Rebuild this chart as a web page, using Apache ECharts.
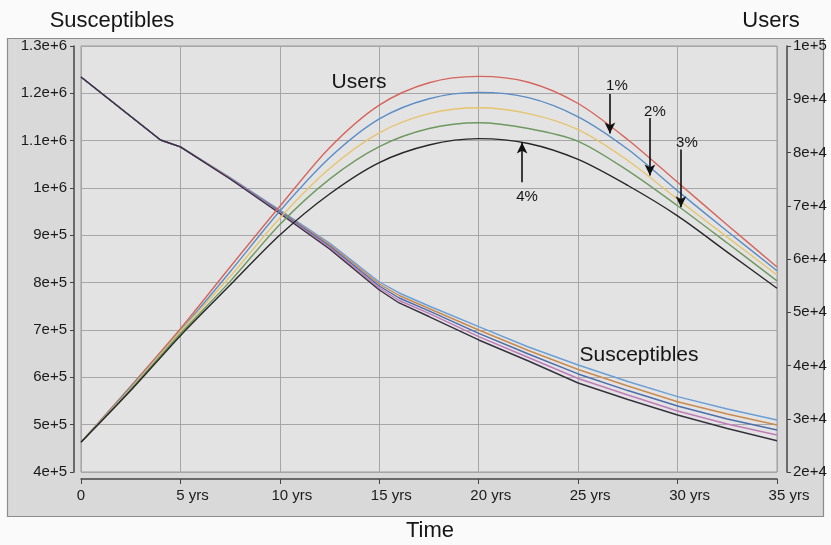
<!DOCTYPE html>
<html><head><meta charset="utf-8">
<script src="https://cdn.jsdelivr.net/npm/echarts@6/dist/echarts.min.js"></script>
<style>html,body{margin:0;padding:0;background:#fafafa;}#c{width:831px;height:545px;}</style>
</head><body><div id="c"></div>
<script>
// ---- tick labels ----
const xTickLabels = ['0', '5 yrs', '10 yrs', '15 yrs', '20 yrs', '25 yrs', '30 yrs', '35 yrs'];
const leftTickLabels = ['4e+5', '5e+5', '6e+5', '7e+5', '8e+5', '9e+5', '1e+6', '1.1e+6', '1.2e+6', '1.3e+6'];
const rightTickLabels = ['2e+4', '3e+4', '4e+4', '5e+4', '6e+4', '7e+4', '8e+4', '9e+4', '1e+5'];

// ---- Users (right axis) ----
const usersTime = [0, 2.5, 5, 7.5, 10, 12.5, 15, 17.5, 20, 22.5, 25, 27.5, 30, 32.5, 35];
const usersRed    = [25600, 36100, 46900, 58500, 69900, 80900, 88900, 93100, 94300, 93200, 89200, 82400, 74400, 66400, 58500];
const usersBlue   = [25600, 35900, 46500, 57600, 69000, 79000, 86300, 90100, 91300, 90300, 86700, 80600, 72800, 65200, 57800];
const usersYellow = [25600, 35700, 46400, 56700, 67700, 77000, 83700, 87300, 88400, 87300, 84300, 78500, 71200, 64100, 57000];
const usersGreen  = [25600, 35500, 46000, 55800, 66500, 75000, 81100, 84500, 85600, 84500, 82100, 76600, 70000, 63000, 55900];
const usersBlack  = [25600, 35300, 45600, 55100, 64500, 72200, 78100, 81400, 82600, 81700, 78700, 73800, 68100, 61300, 54500];

// ---- Susceptibles (left axis) ----
const suscTime = [0, 4, 5, 7.5, 10, 12.5, 15, 16, 17.5, 20, 22.5, 25, 27.5, 30, 32.5, 35];
const suscLightBlue = [1234600, 1101400, 1086700, 1022200, 953500, 883800, 801400, 778200, 750700, 707000, 664100, 626100, 591200, 559100, 533100, 509900];
const suscOrange    = [1234600, 1101400, 1086700, 1021200, 951400, 880700, 797200, 772900, 745400, 700000, 656700, 616600, 581700, 548500, 522500, 499300];
const suscBlue      = [1234600, 1101400, 1086700, 1020500, 950000, 877500, 793000, 767600, 740200, 693000, 649300, 607100, 572100, 539400, 512000, 488700];
const suscPink      = [1234600, 1101400, 1086700, 1019900, 948300, 874300, 788800, 762300, 734900, 685900, 641900, 597500, 562700, 528900, 501400, 478200];
const suscBlack     = [1234600, 1101400, 1086700, 1019000, 946200, 871100, 784500, 757100, 728500, 678900, 634500, 588000, 553200, 520400, 491900, 466100];

// ---- annotations (data coordinates) ----
const arrowTexts = ['1%', '2%', '3%', '4%'];
const arrowX = [26.6, 28.61, 30.17, 22.18];
const arrowFrom = [91000, 86500, 80560, 74390];
const arrowTo = [83550, 75700, 69720, 81870];
const arrowLabelX = [26.95, 28.86, 30.47, 22.43];
const arrowLabelY = [92520, 87660, 81870, 71590];

const pairs = (ts, vs) => ts.map((t, i) => [t, vs[i]]);
const FONT = '"Liberation Sans", Arial, sans-serif';

const chart = echarts.init(document.getElementById('c'), null, {renderer: 'canvas'});

function lineSeries(name, ts, vs, color, axis, smooth, extra) {
  return Object.assign({
    name, type: 'line', xAxisIndex: 0, yAxisIndex: axis,
    data: pairs(ts, vs), showSymbol: false, symbol: 'none', smooth: smooth,
    lineStyle: {color, width: 1.4}, itemStyle: {color}, animation: false, silent: true
  }, extra || {});
}

const SM = 0.3;
const series = [
  lineSeries('S1', suscTime, suscLightBlue, '#6a9ed6', 0, false),
  lineSeries('S2', suscTime, suscOrange, '#c98a4e', 0, false),
  lineSeries('S3', suscTime, suscBlue, '#4d6cab', 0, false),
  lineSeries('S4', suscTime, suscPink, '#c07ab8', 0, false),
  lineSeries('S5', suscTime, suscBlack, '#34323e', 0, false, {
    markPoint: {
      silent: true, symbol: 'rect', symbolSize: 1, itemStyle: {color: 'rgba(0,0,0,0)'},
      label: {show: true, position: 'inside', color: '#151515', fontSize: 21, fontFamily: FONT, formatter: p => p.name},
      data: [{name: 'Susceptibles', coord: [28.06, 647200]}]
    }
  }),
  lineSeries('U1', usersTime, usersRed, '#d5655c', 1, SM),
  lineSeries('U2', usersTime, usersBlue, '#5a8dc6', 1, SM),
  lineSeries('U3', usersTime, usersYellow, '#e6c46e', 1, SM),
  lineSeries('U4', usersTime, usersGreen, '#6d985e', 1, SM),
  lineSeries('U5', usersTime, usersBlack, '#262626', 1, SM, {
    markLine: {
      silent: true, animation: false, symbol: ['none', 'arrow'], symbolSize: [8, 11],
      lineStyle: {color: '#111', width: 1.6, type: 'solid'}, label: {show: false},
      data: arrowX.map((x, i) => [{coord: [x, arrowFrom[i]]}, {coord: [x, arrowTo[i]]}])
    },
    markPoint: {
      silent: true, symbol: 'rect', symbolSize: 1, itemStyle: {color: 'rgba(0,0,0,0)'},
      label: {show: true, position: 'inside', color: '#151515', fontFamily: FONT, formatter: p => p.name},
      data: arrowTexts.map((t, i) => ({name: t, coord: [arrowLabelX[i], arrowLabelY[i]], label: {fontSize: 15}}))
        .concat([{name: 'Users', coord: [13.98, 93270], label: {fontSize: 21}}])
    }
  })
];

chart.setOption({
  backgroundColor: '#fafafa',
  animation: false,
  textStyle: {fontFamily: FONT},
  graphic: [
    {type: 'rect', z: -100, silent: true, shape: {x: 7.5, y: 38.5, width: 816, height: 478},
     style: {fill: '#d9d9d9', stroke: '#8c8c8c', lineWidth: 1.2}},
    {type: 'text', silent: true, style: {text: 'Susceptibles', x: 112, y: 21, align: 'center', verticalAlign: 'middle', font: '22px ' + FONT, fill: '#151515'}},
    {type: 'text', silent: true, style: {text: 'Users', x: 771, y: 21, align: 'center', verticalAlign: 'middle', font: '22px ' + FONT, fill: '#151515'}},
    {type: 'text', silent: true, style: {text: 'Time', x: 430, y: 531, align: 'center', verticalAlign: 'middle', font: '22px ' + FONT, fill: '#151515'}}
  ],
  grid: {left: 81, right: 54, top: 46, bottom: 73, show: true, backgroundColor: '#e3e3e3', borderColor: '#9a9a9a', borderWidth: 1},
  xAxis: [{
    type: 'value', min: 0, max: 35, interval: 5, offset: 7,
    axisLine: {show: true, onZero: false, lineStyle: {color: '#444', width: 1.5}},
    axisTick: {show: true, length: 5, lineStyle: {color: '#444'}},
    splitLine: {show: true, lineStyle: {color: '#a6a6a6', width: 1}},
    axisLabel: {
      margin: 9, color: '#1a1a1a', fontSize: 15, fontFamily: FONT,
      formatter: v => {
        const s = xTickLabels[Math.round(v / 5)];
        return s.indexOf(' ') > 0 ? '{p|}{n|' + s + '}' : '{n|' + s + '}';
      },
      rich: {p: {width: 24}, n: {fontSize: 15, color: '#1a1a1a', fontFamily: FONT}}
    }
  }],
  yAxis: [{
    type: 'value', min: 400000, max: 1300000, interval: 100000, offset: 7,
    axisLine: {show: true, onZero: false, lineStyle: {color: '#444', width: 1.5}},
    axisTick: {show: true, length: 4, lineStyle: {color: '#444'}},
    splitLine: {show: true, lineStyle: {color: '#a6a6a6', width: 1}},
    axisLabel: {margin: 7, color: '#1a1a1a', fontSize: 15, fontFamily: FONT,
      formatter: v => leftTickLabels[Math.round((v - 400000) / 100000)]}
  }, {
    type: 'value', position: 'right', min: 20000, max: 100000, interval: 10000, offset: 10,
    axisLine: {show: true, onZero: false, lineStyle: {color: '#444', width: 1.5}},
    axisTick: {show: true, length: 4, lineStyle: {color: '#444'}},
    splitLine: {show: false},
    axisLabel: {margin: 6, color: '#1a1a1a', fontSize: 15, fontFamily: FONT,
      formatter: v => rightTickLabels[Math.round((v - 20000) / 10000)]}
  }],
  series
});
</script>
</body></html>
